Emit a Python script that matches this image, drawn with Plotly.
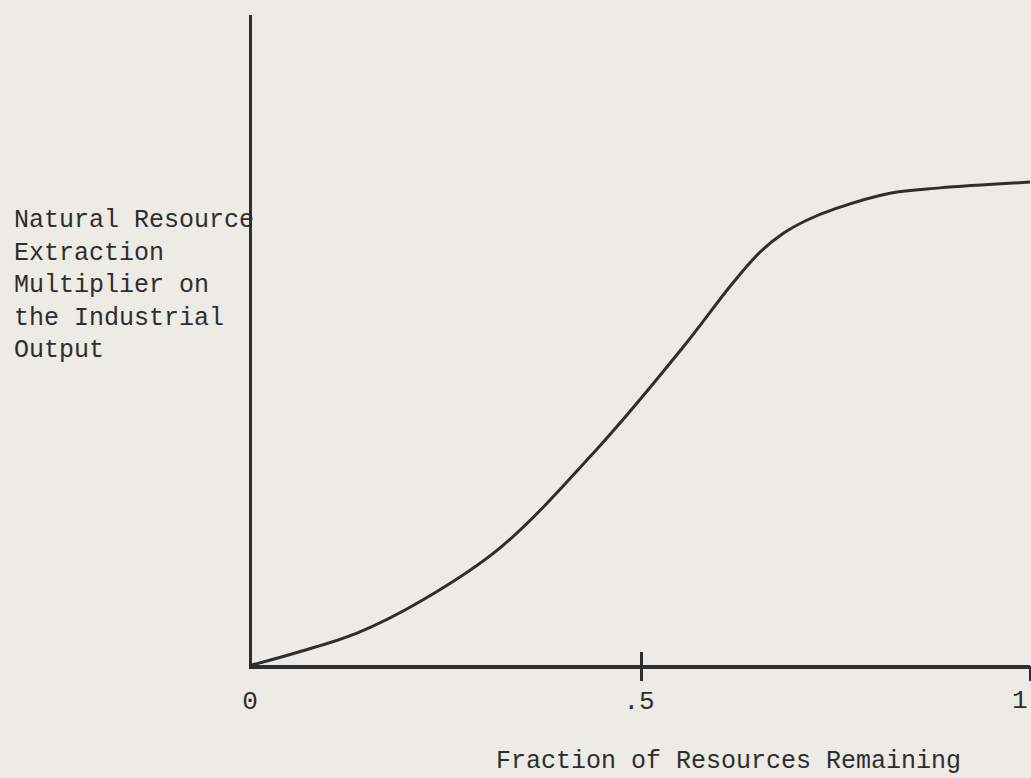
import plotly.graph_objects as go

# Fraction of resources remaining (x) vs. natural resource extraction multiplier (y)
fraction_remaining = [0.0, 0.06, 0.135, 0.22, 0.32, 0.445, 0.554, 0.618, 0.653,
                      0.683, 0.713, 0.75, 0.82, 0.884, 1.0]
extraction_multiplier = [0.0, 0.027, 0.066, 0.135, 0.244, 0.450, 0.658, 0.791, 0.855,
                         0.894, 0.921, 0.945, 0.977, 0.988, 1.0]

tick_values = [0, 0.5, 1]
tick_labels = ["0", ".5", "1"]
marked_ticks = [0.5, 1]

y_title = "Natural Resource<br>Extraction<br>Multiplier on<br>the Industrial<br>Output"
x_title = "Fraction of Resources Remaining"

PAPER = "#ecebe6"
INK = "#2e2e2e"
FONT = "Courier New, Liberation Mono, monospace"

fig = go.Figure()
fig.add_trace(go.Scatter(
    x=fraction_remaining, y=extraction_multiplier, mode="lines",
    line=dict(color=INK, width=3, shape="spline", smoothing=1.0),
    hoverinfo="skip", showlegend=False, cliponaxis=False,
))
# invisible anchors so the overlaid tick axes are drawn
for ax in ("x2", "x3"):
    fig.add_trace(go.Scatter(
        x=marked_ticks, y=[0] * len(marked_ticks), xaxis=ax, yaxis="y",
        mode="markers", marker=dict(opacity=0), hoverinfo="skip", showlegend=False,
    ))

fig.update_layout(
    width=1031, height=778,
    margin=dict(l=252, r=1, t=15, b=113, autoexpand=False),
    paper_bgcolor=PAPER, plot_bgcolor=PAPER,
    font=dict(family=FONT, color=INK, size=26),
    showlegend=False,
    xaxis=dict(range=[0, 1], showgrid=False, zeroline=False, automargin=False,
               showline=True, linecolor=INK, linewidth=4,
               tickvals=tick_values[:-1], ticktext=tick_labels[:-1], ticks="",
               ticklabelstandoff=9, ticklabelshift=-2,
               tickfont=dict(family=FONT, size=26, color=INK), fixedrange=True),
    xaxis2=dict(range=[0, 1], overlaying="x", anchor="y", side="bottom",
                showgrid=False, zeroline=False, showline=False, automargin=False,
                tickvals=marked_ticks, ticks="outside", ticklen=15, tickwidth=3,
                tickcolor=INK, showticklabels=False, fixedrange=True),
    xaxis3=dict(range=[0, 1], overlaying="x", anchor="y", side="bottom",
                showgrid=False, zeroline=False, showline=False, automargin=False,
                tickvals=marked_ticks, ticks="inside", ticklen=13, tickwidth=3,
                tickcolor=INK, showticklabels=False, fixedrange=True),
    yaxis=dict(range=[0, 1.346], showgrid=False, zeroline=False, automargin=False,
               showline=True, linecolor=INK, linewidth=3,
               showticklabels=False, ticks="", fixedrange=True),
)

# last tick label sits at the right edge; anchor it so it stays fully visible
fig.add_annotation(
    text=tick_labels[-1], xref="x", yref="paper", x=tick_values[-1], y=-0.0554,
    xanchor="right", yanchor="middle", showarrow=False,
    font=dict(family=FONT, size=26, color=INK),
)
fig.add_annotation(
    text=y_title, xref="paper", yref="paper", x=-0.3085, y=0.71,
    xanchor="left", yanchor="top", align="left", showarrow=False,
    font=dict(family=FONT, size=25, color=INK),
)
fig.add_annotation(
    text=x_title, xref="paper", yref="paper", x=0.613, y=-0.149,
    xanchor="center", yanchor="middle", showarrow=False,
    font=dict(family=FONT, size=25, color=INK),
)

fig.write_html("out.html", config={"displayModeBar": False},
               post_script="document.body.style.margin='0';")
